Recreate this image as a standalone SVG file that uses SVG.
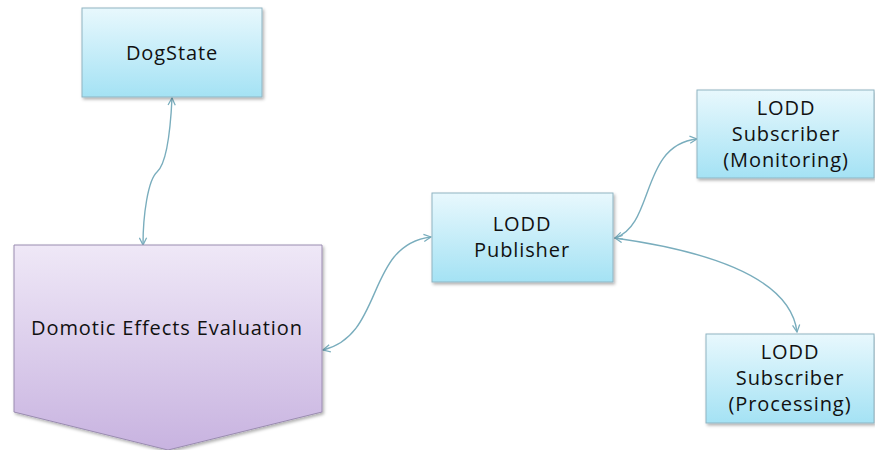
<svg xmlns="http://www.w3.org/2000/svg" width="875" height="450" viewBox="0 0 875 450">
<style>
.box{fill:url(#gBlue);stroke:#8fb4c2;stroke-width:1;filter:url(#sh)}
.pent{fill:url(#gPurple);stroke:#9a8cb0;stroke-width:1;filter:url(#sh)}
.t{font-family:"Open Sans","Liberation Sans",sans-serif;font-size:20px;letter-spacing:0.9px;fill:#111;text-anchor:middle}
.c{fill:none;stroke:#79adbd;stroke-width:1.4;marker-start:url(#ah);marker-end:url(#ah)}
</style>
<defs>
<linearGradient id="gBlue" x1="0" y1="0" x2="0" y2="1">
<stop offset="0" stop-color="#e8f8fd"/>
<stop offset="1" stop-color="#a4e2f4"/>
</linearGradient>
<linearGradient id="gPurple" x1="0" y1="0" x2="0" y2="1">
<stop offset="0" stop-color="#efe8f7"/>
<stop offset="1" stop-color="#c8b3e0"/>
</linearGradient>
<filter id="sh" x="-10%" y="-10%" width="120%" height="130%">
<feDropShadow dx="1.5" dy="2" stdDeviation="1.5" flood-color="#000" flood-opacity="0.3"/>
</filter>
<marker id="ah" viewBox="0 0 10 10" refX="9" refY="5" markerWidth="9" markerHeight="9" markerUnits="userSpaceOnUse" orient="auto-start-reverse">
<path d="M1,1 L9,5 L1,9" fill="none" stroke="#79adbd" stroke-width="1.4"/>
</marker>
</defs>
<g id="connectors">
<path class="c" d="M172,98 C170,140 165,165 157,172 C148,180 143,215 143,245"/>
<path class="c" d="M323,350 C385,335 365,245 431,237"/>
<path class="c" d="M615,238 C655,225 640,145 697,139"/>
<path class="c" d="M615,238 C700,250 790,275 797,332"/>
</g>
<g id="dogstate">
<rect class="box" x="82" y="8" width="180" height="89"/>
<text class="t" x="172" y="60">DogState</text>
</g>
<g id="domotic">
<path class="pent" d="M14,245 H322 V412 L168,450 L14,412 Z"/>
<text class="t" x="167" y="335">Domotic Effects Evaluation</text>
</g>
<g id="publisher">
<rect class="box" x="432" y="193" width="181" height="89"/>
<text class="t" x="522" y="231">LODD</text>
<text class="t" x="522" y="257">Publisher</text>
</g>
<g id="monitoring">
<rect class="box" x="697" y="90" width="177" height="88"/>
<text class="t" x="786" y="115">LODD</text>
<text class="t" x="786" y="141">Subscriber</text>
<text class="t" x="786" y="167">(Monitoring)</text>
</g>
<g id="processing">
<rect class="box" x="706" y="334" width="168" height="89"/>
<text class="t" x="790" y="359">LODD</text>
<text class="t" x="790" y="385">Subscriber</text>
<text class="t" x="790" y="411">(Processing)</text>
</g>
</svg>
